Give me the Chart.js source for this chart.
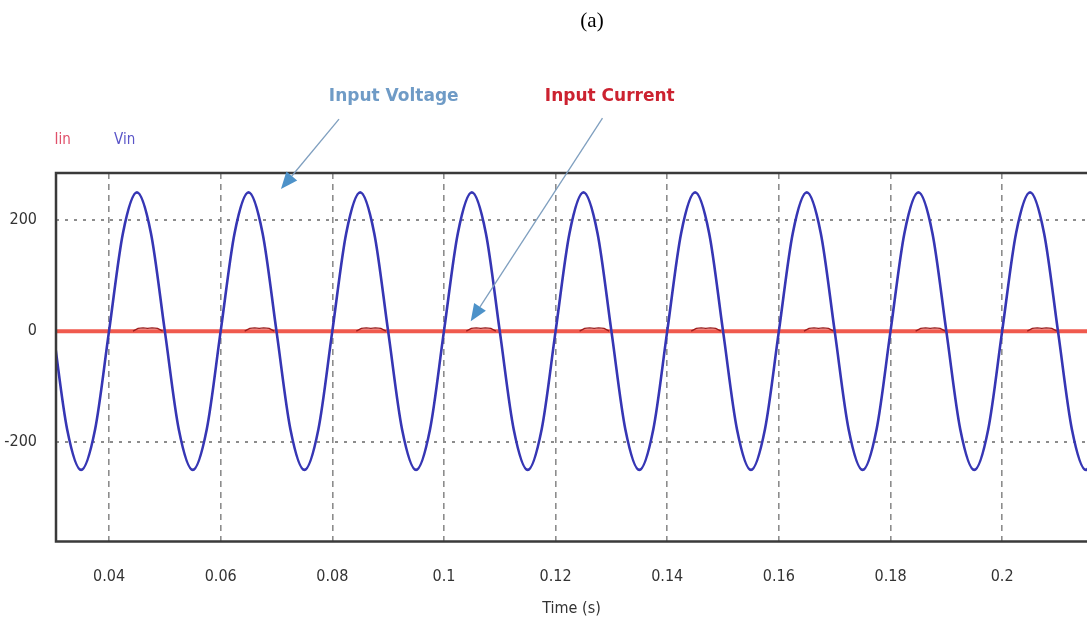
<!DOCTYPE html>
<html>
<head>
<meta charset="utf-8">
<script src="https://cdn.jsdelivr.net/npm/chart.js@4/dist/chart.umd.min.js"></script>
<style>
  body { margin: 0; background: #fff; }
</style>
</head>
<body>
<canvas id="myChart" width="1087" height="626"></canvas>
<script>
// sample times (s) for the input voltage trace
const vinTimes = [
  0.030, 0.0325, 0.035, 0.0375, 0.040, 0.0425, 0.045, 0.0475,
  0.050, 0.0525, 0.055, 0.0575, 0.060, 0.0625, 0.065, 0.0675,
  0.070, 0.0725, 0.075, 0.0775, 0.080, 0.0825, 0.085, 0.0875,
  0.090, 0.0925, 0.095, 0.0975, 0.100, 0.1025, 0.105, 0.1075,
  0.110, 0.1125, 0.115, 0.1175, 0.120, 0.1225, 0.125, 0.1275,
  0.130, 0.1325, 0.135, 0.1375, 0.140, 0.1425, 0.145, 0.1475,
  0.150, 0.1525, 0.155, 0.1575, 0.160, 0.1625, 0.165, 0.1675,
  0.170, 0.1725, 0.175, 0.1775, 0.180, 0.1825, 0.185, 0.1875,
  0.190, 0.1925, 0.195, 0.1975, 0.200, 0.2025, 0.205, 0.2075,
  0.210, 0.2125, 0.215, 0.2175,
];
// input voltage (V)
const vinValues = [
  0, -177, -250, -177, 0, 177, 250, 177,
  0, -177, -250, -177, 0, 177, 250, 177,
  0, -177, -250, -177, 0, 177, 250, 177,
  0, -177, -250, -177, 0, 177, 250, 177,
  0, -177, -250, -177, 0, 177, 250, 177,
  0, -177, -250, -177, 0, 177, 250, 177,
  0, -177, -250, -177, 0, 177, 250, 177,
  0, -177, -250, -177, 0, 177, 250, 177,
  0, -177, -250, -177, 0, 177, 250, 177,
  0, -177, -250, -177,
];

// input current baseline
const iinTimes = [0.030, 0.2175];
const iinValues = [0, 0];

// small current pulses near each voltage peak (null = gap)
const pulseTimes = [
  0.0443, 0.0452, 0.0461, 0.0469, 0.0477, 0.0487, 0.0496, 0.0500,
  0.0643, 0.0652, 0.0661, 0.0669, 0.0677, 0.0687, 0.0696, 0.0700,
  0.0843, 0.0852, 0.0861, 0.0869, 0.0877, 0.0887, 0.0896, 0.0900,
  0.1040, 0.1049, 0.1058, 0.1066, 0.1074, 0.1084, 0.1093, 0.1100,
  0.1243, 0.1252, 0.1261, 0.1269, 0.1277, 0.1287, 0.1296, 0.1300,
  0.1443, 0.1452, 0.1461, 0.1469, 0.1477, 0.1487, 0.1496, 0.1500,
  0.1645, 0.1654, 0.1663, 0.1671, 0.1679, 0.1689, 0.1698, 0.1700,
  0.1845, 0.1854, 0.1863, 0.1871, 0.1879, 0.1889, 0.1898, 0.1900,
  0.2045, 0.2054, 0.2063, 0.2071, 0.2079, 0.2089, 0.2098,
];
const pulseValues = [
  0, 5, 6, 5, 6, 5, 0, null,
  0, 5, 6, 5, 6, 5, 0, null,
  0, 5, 6, 5, 6, 5, 0, null,
  0, 5, 6, 5, 6, 5, 0, null,
  0, 5, 6, 5, 6, 5, 0, null,
  0, 5, 6, 5, 6, 5, 0, null,
  0, 5, 6, 5, 6, 5, 0, null,
  0, 5, 6, 5, 6, 5, 0, null,
  0, 5, 6, 5, 6, 5, 0,
];

const xTicks = [0.04, 0.06, 0.08, 0.1, 0.12, 0.14, 0.16, 0.18, 0.2];
const xTickLabels = ["0.04", "0.06", "0.08", "0.1", "0.12", "0.14", "0.16", "0.18", "0.2"];
const yTicks = [-200, 0, 200];
const yTickLabels = ["-200", "0", "200"];

const toPoints = (xs, ys) => xs.map((x, i) => ({ x: x, y: ys[i] }));

const narrow = "'Liberation Sans Narrow', 'DejaVu Sans Condensed', sans-serif";

// text labels and arrows, placed in data units
const notes = [
  { text: "Input Voltage", t: 0.0910, v: 422, color: "#6f9bc6", font: "bold 17px 'DejaVu Sans', sans-serif" },
  { text: "Input Current", t: 0.1297, v: 422, color: "#cc2230", font: "bold 17px 'DejaVu Sans', sans-serif" },
  { text: "Iin", t: 0.0317, v: 344, color: "#e0506a", font: "15px " + narrow },
  { text: "Vin", t: 0.0428, v: 344, color: "#5a55c8", font: "15px " + narrow },
];
const arrows = [
  { from: [0.0812, 382], to: [0.0708, 256] },
  { from: [0.1284, 384], to: [0.1048, 18] },
];

const overlay = {
  id: "overlay",
  afterDraw(chart) {
    const { ctx, chartArea: a, scales } = chart;
    const x = scales.x, y = scales.y;
    ctx.save();
    // plot frame (right side is cut off)
    ctx.strokeStyle = "#3a3a3a";
    ctx.lineWidth = 2.5;
    ctx.beginPath();
    ctx.moveTo(a.right + 5, a.top);
    ctx.lineTo(a.left, a.top);
    ctx.lineTo(a.left, a.bottom);
    ctx.lineTo(a.right + 5, a.bottom);
    ctx.stroke();

    // arrows
    arrows.forEach((ar) => {
      const x0 = x.getPixelForValue(ar.from[0]), y0 = y.getPixelForValue(ar.from[1]);
      const x1 = x.getPixelForValue(ar.to[0]), y1 = y.getPixelForValue(ar.to[1]);
      const ang = Math.atan2(y1 - y0, x1 - x0);
      const len = 17, half = 7;
      const bx = x1 - len * Math.cos(ang), by = y1 - len * Math.sin(ang);
      ctx.strokeStyle = "#7f9fbf";
      ctx.lineWidth = 1.3;
      ctx.beginPath();
      ctx.moveTo(x0, y0);
      ctx.lineTo(bx, by);
      ctx.stroke();
      ctx.fillStyle = "#4d92c9";
      ctx.beginPath();
      ctx.moveTo(x1, y1);
      ctx.lineTo(bx + half * Math.sin(ang), by - half * Math.cos(ang));
      ctx.lineTo(bx - half * Math.sin(ang), by + half * Math.cos(ang));
      ctx.closePath();
      ctx.fill();
    });

    // labels
    ctx.textAlign = "center";
    ctx.textBaseline = "middle";
    notes.forEach((n) => {
      ctx.font = n.font;
      ctx.fillStyle = n.color;
      ctx.fillText(n.text, x.getPixelForValue(n.t), y.getPixelForValue(n.v));
    });

    // panel caption
    ctx.font = "21px 'Liberation Serif', serif";
    ctx.fillStyle = "#000";
    ctx.fillText("(a)", 592, 21);
    ctx.restore();
  },
};

chart = new Chart(document.getElementById("myChart").getContext("2d"), {
  type: "line",
  data: {
    datasets: [
      {
        label: "Vin",
        data: toPoints(vinTimes, vinValues),
        borderColor: "#3636b4",
        borderWidth: 2.6,
        pointRadius: 0,
        cubicInterpolationMode: "monotone",
      },
      {
        label: "Iin pulses",
        data: toPoints(pulseTimes, pulseValues),
        borderColor: "#9c1c1c",
        borderWidth: 1.3,
        pointRadius: 0,
        spanGaps: false,
      },
      {
        label: "Iin",
        data: toPoints(iinTimes, iinValues),
        borderColor: "#f05a4e",
        borderWidth: 4,
        pointRadius: 0,
      },
    ],
  },
  options: {
    responsive: false,
    animation: false,
    layout: { padding: { top: 173, left: 0, right: 0, bottom: 0 } },
    plugins: {
      legend: { display: false },
      title: { display: false },
      tooltip: { enabled: false },
    },
    scales: {
      x: {
        type: "linear",
        min: 0.0305,
        max: 0.2152,
        afterBuildTicks: (s) => { s.ticks = xTicks.map((v) => ({ value: v })); },
        afterFit: (s) => { s.height = 84.5; },
        ticks: {
          autoSkip: false,
          maxRotation: 0,
          padding: 26,
          color: "#333",
          font: { family: narrow, size: 16 },
          callback: (v, i) => xTickLabels[i],
        },
        grid: { color: "#8c8c8c", lineWidth: 1.6, drawTicks: false },
        border: { display: false, dash: [6, 5] },
        title: {
          display: true,
          text: "Time (s)",
          color: "#333",
          font: { family: narrow, size: 16 },
          padding: { top: 0, bottom: 8 },
        },
      },
      y: {
        min: -379,
        max: 285,
        afterBuildTicks: (s) => { s.ticks = yTicks.map((v) => ({ value: v })); },
        afterFit: (s) => { s.width = 56; },
        ticks: {
          padding: 19,
          color: "#333",
          font: { family: narrow, size: 16 },
          callback: (v, i) => yTickLabels[i],
        },
        grid: { color: "#8c8c8c", lineWidth: 2, drawTicks: false },
        border: { display: false, dash: [3, 6] },
      },
    },
  },
  plugins: [overlay],
});
</script>
</body>
</html>
